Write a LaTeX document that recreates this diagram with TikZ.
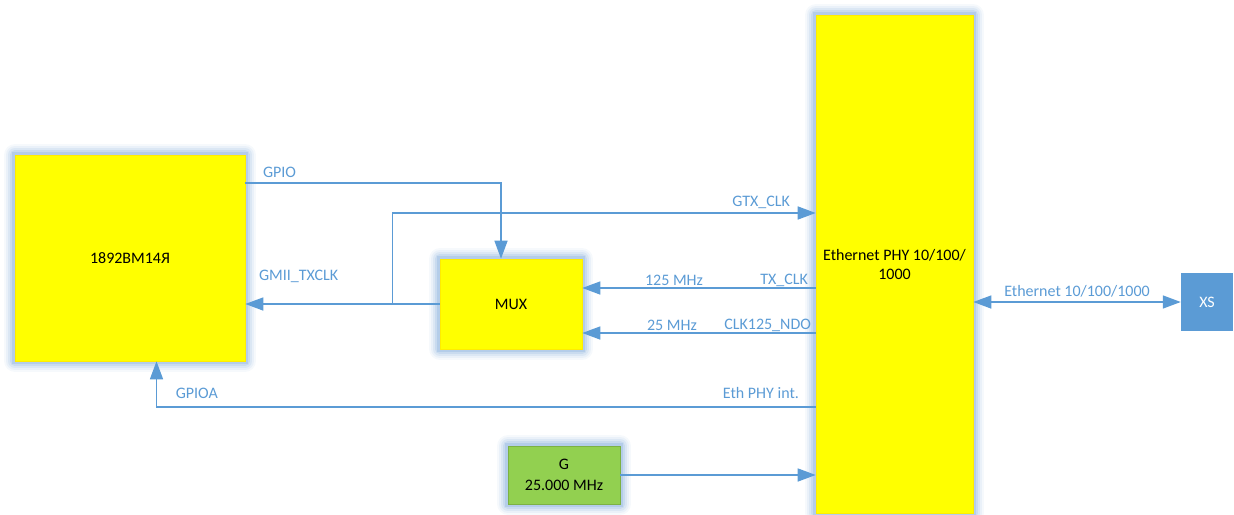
\documentclass[tikz,border=0pt]{standalone}
\usepackage{fontspec}
\setmainfont{Carlito}
\usetikzlibrary{arrows.meta}
\definecolor{wire}{HTML}{5B9BD5}
\definecolor{halo}{HTML}{B4CDE9}
\definecolor{chip}{HTML}{FFFF00}
\definecolor{osc}{HTML}{92D050}

\begin{document}
\begin{tikzpicture}[x=1pt,y=-1pt,font=\fontsize{16}{19}\selectfont,
  >={Triangle[length=18pt,width=13pt]},
  blk/.style={rectangle,fill=chip,draw=chip!85!orange,line width=0.6pt,align=center,inner sep=2pt,
    preaction={draw=halo!12,line width=22pt,line join=round},
    preaction={draw=halo!28,line width=18pt,line join=round},
    preaction={draw=halo!48,line width=14pt,line join=round},
    preaction={draw=halo!72,line width=10pt,line join=round},
    preaction={draw=halo,line width=6pt}},
  sig/.style={draw=wire,line width=1.5pt,->},
  lbl/.style={text=wire,inner sep=0pt}]
\useasboundingbox (0,0) rectangle (1234,514);
% blocks
\node [blk,minimum width=230pt,minimum height=206pt] (cpu) at (130,258) {1892ВМ14Я};
\node [blk,minimum width=142pt,minimum height=90pt] (mux) at (511,304) {MUX};
\node [blk,minimum width=157pt,minimum height=498pt] (phy) at (894.5,264) {Ethernet PHY 10/100/\\1000};
\node [blk,fill=osc,draw=osc!85!black,minimum width=112pt,minimum height=58pt,font=\fontsize{16}{21}\selectfont] (gen) at (564,475) {G\\25.000 MHz};
\node [rectangle,fill=wire,text=white,minimum width=52pt,minimum height=58pt] (xs) at (1207,302) {XS};
\coordinate (tap) at ([xshift=-47pt]mux.west);
% wires
\draw [sig] (cpu.east |- 0,183) node [lbl,anchor=base west,xshift=17pt,yshift=6pt] {GPIO} -| ([xshift=-10pt]mux.north);
\draw [sig] (mux.west) -- (cpu.east |- mux.west) node [lbl,anchor=base west,xshift=13pt,yshift=24pt] {GMII\_TXCLK};
\draw [sig] (tap) |- (phy.west |- 0,213) node [lbl,anchor=base east,xshift=-25pt,yshift=7pt] {GTX\_CLK};
\draw [sig] (phy.west |- 0,288) node [lbl,anchor=base east,xshift=-7pt,yshift=4pt] {TX\_CLK} -- (mux.east |- 0,288) node [lbl,anchor=base west,xshift=62pt,yshift=3pt] {125 MHz};
\draw [sig] (phy.west |- 0,333) node [lbl,anchor=base east,xshift=-4pt,yshift=4pt] {CLK125\_NDO} -- (mux.east |- 0,333) node [lbl,anchor=base west,xshift=64pt,yshift=3pt] {25 MHz};
\draw [sig] (phy.west |- 0,407) node [lbl,anchor=base east,xshift=-16pt,yshift=9pt] {Eth PHY int.} -| node [lbl,pos=0.5,anchor=base west,xshift=18.5pt,yshift=9pt] {GPIOA} ([xshift=26.5pt]cpu.south);
\draw [sig] (gen.east) -- (phy.west |- gen.east);
\draw [sig,<->] (phy.east |- xs.west) -- node [lbl,anchor=base,yshift=6pt] {Ethernet 10/100/1000} (xs.west);
\end{tikzpicture}
\end{document}
